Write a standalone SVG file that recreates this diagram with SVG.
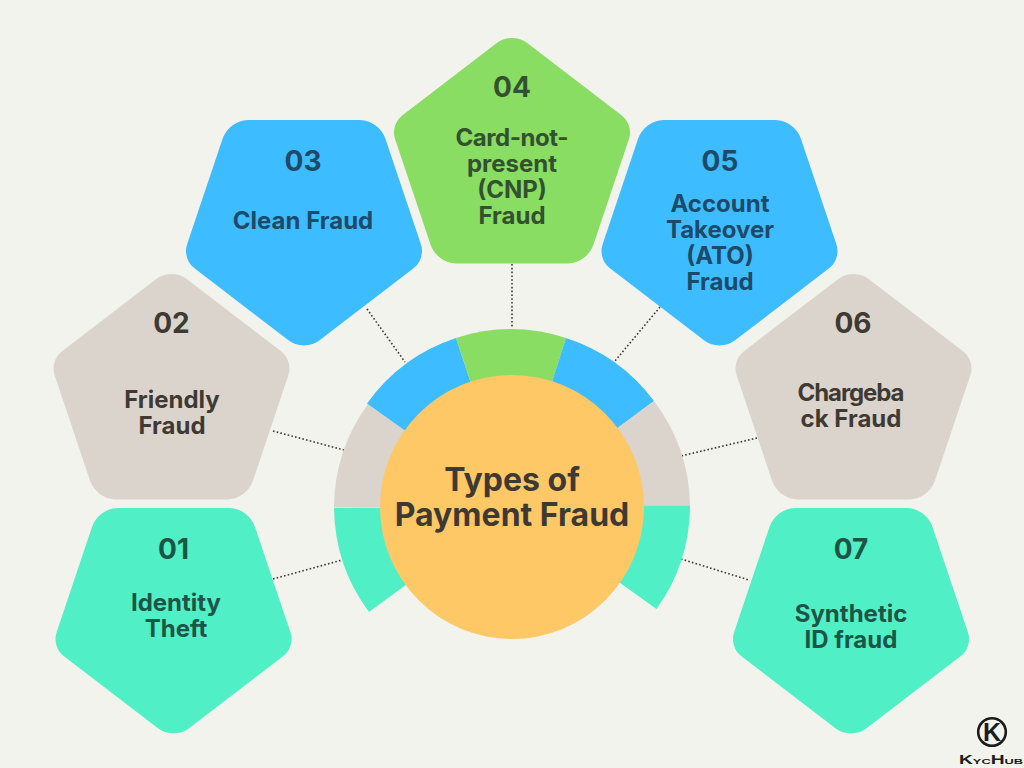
<svg xmlns="http://www.w3.org/2000/svg" width="1024" height="768" viewBox="0 0 1024 768">
<style>
.t{font-family:"Inter","Open Sans","Liberation Sans",sans-serif;font-weight:700;text-anchor:middle;fill:#3e3a33}
.n{font-size:28px}
.l{font-size:24px}
.c{font-size:32px}
.blue{fill:#3dbcff}
.green{fill:#88dd62}
.grey{fill:#dbd4cd}
.teal{fill:#50efc6}
.tb{fill:#1d4a68}
.tg{fill:#33502f}
.tt{fill:#1c5546}
.d{stroke:#3e3a33;stroke-width:1.6;stroke-dasharray:1.6 2.2;fill:none}
.k{font-family:"Liberation Sans",sans-serif;fill:#1c1c1c}
</style>
<defs>
<path id="pent" d="M-56 225.500H56A28 28 0 0 0 81.500 206.600L116.800 101.600A22 22 0 0 0 109.200 76.900L15.200 4.900A26 26 0 0 0 -15.200 4.900L-109.200 76.900A22 22 0 0 0 -116.800 101.600L-81.500 206.600A28 28 0 0 0 -56 225.500Z"/>
<path id="pentd" d="M-56 0H56A28 28 0 0 1 81.500 18.900L116.800 123.900A22 22 0 0 1 109.200 148.600L15.200 220.600A26 26 0 0 1 -15.200 220.600L-109.200 148.600A22 22 0 0 1 -116.800 123.900L-81.500 18.900A28 28 0 0 1 -56 0Z"/>
</defs>
<rect width="1024" height="768" fill="#f2f3ec"/>
<g id="connectors">
<line class="d" x1="367" y1="309" x2="405" y2="362"/>
<line class="d" x1="512" y1="264" x2="512" y2="327"/>
<line class="d" x1="660" y1="307" x2="615" y2="361"/>
<line class="d" x1="273" y1="431" x2="344" y2="450"/>
<line class="d" x1="757" y1="438" x2="681" y2="456"/>
<line class="d" x1="273" y1="579" x2="342" y2="560"/>
<line class="d" x1="681" y1="559" x2="749" y2="580"/>
</g>
<g id="ring">
<path class="teal" d="M334 508A178 178 0 0 0 369 612L512 507Z"/>
<path class="grey" d="M368 404A178 178 0 0 0 334 507.500L512 507.500Z"/>
<path class="blue" d="M456 338A178 178 0 0 0 367 403.500L512 507Z"/>
<path class="green" d="M456 338A178 178 0 0 1 566 338L512 507Z"/>
<path class="blue" d="M566 338A178 178 0 0 1 654 401L512 507Z"/>
<path class="grey" d="M654 401A178 178 0 0 1 690 505.500L512 505.500Z"/>
<path class="teal" d="M690 505.500A178 178 0 0 1 656.500 609L512 505.500Z"/>
</g>
<g id="center">
<circle cx="512" cy="507" r="132" fill="#ffc866"/>
<text class="t c" x="512" y="491">Types of</text>
<text class="t c" x="512" y="526">Payment Fraud</text>
</g>
<g id="node-01">
<use href="#pentd" class="teal" x="173.500" y="508"/>
<text class="t n tt" x="173.500" y="559">01</text>
<text class="t l tt" x="176" y="611">Identity</text>
<text class="t l tt" x="176" y="637">Theft</text>
</g>
<g id="node-02">
<use href="#pent" class="grey" x="171.500" y="274"/>
<text class="t n" x="171.500" y="333">02</text>
<text class="t l" x="172" y="408">Friendly</text>
<text class="t l" x="172" y="434">Fraud</text>
</g>
<g id="node-03">
<use href="#pentd" class="blue" x="304" y="120"/>
<text class="t n tb" x="303" y="171">03</text>
<text class="t l tb" x="303" y="229">Clean Fraud</text>
</g>
<g id="node-04">
<use href="#pent" class="green" x="512" y="38"/>
<text class="t n tg" x="512" y="97">04</text>
<text class="t l tg" x="512" y="146" textLength="113">Card-not-</text>
<text class="t l tg" x="512" y="172">present</text>
<text class="t l tg" x="512" y="198">(CNP)</text>
<text class="t l tg" x="512" y="224">Fraud</text>
</g>
<g id="node-05">
<use href="#pentd" class="blue" x="719.500" y="120"/>
<text class="t n tb" x="720" y="171">05</text>
<text class="t l tb" x="720" y="212">Account</text>
<text class="t l tb" x="720" y="238">Takeover</text>
<text class="t l tb" x="720" y="264">(ATO)</text>
<text class="t l tb" x="720" y="290">Fraud</text>
</g>
<g id="node-06">
<use href="#pent" class="grey" x="853.500" y="274"/>
<text class="t n" x="853" y="333">06</text>
<text class="t l" x="851" y="401" textLength="107">Chargeba</text>
<text class="t l" x="851" y="427">ck Fraud</text>
</g>
<g id="node-07">
<use href="#pentd" class="teal" x="851" y="508"/>
<text class="t n tt" x="851" y="559">07</text>
<text class="t l tt" x="851" y="622">Synthetic</text>
<text class="t l tt" x="851" y="648">ID fraud</text>
</g>
<g id="logo">
<circle cx="992" cy="732" r="13.800" fill="none" stroke="#1c1c1c" stroke-width="2.600"/>
<text class="k" x="992" y="741" text-anchor="middle" font-weight="700" font-size="25">K</text>
<text class="k" x="959" y="764" font-size="12" font-weight="700" font-variant="small-caps" textLength="64" lengthAdjust="spacingAndGlyphs">KycHub</text>
</g>
</svg>
